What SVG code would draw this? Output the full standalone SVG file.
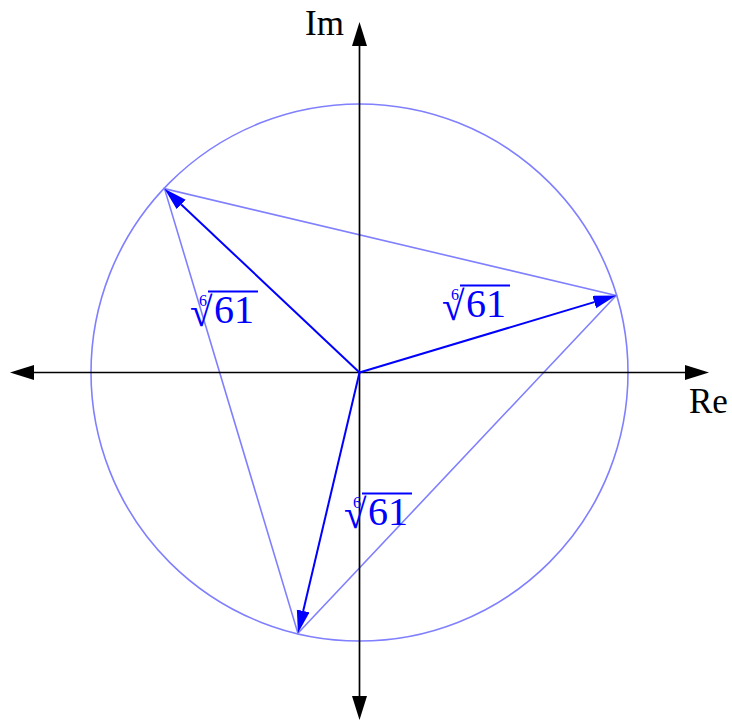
<svg xmlns="http://www.w3.org/2000/svg" width="732" height="722" viewBox="0 0 732 722">
  <style>
    .axis { stroke: #000; stroke-width: 1.7; fill: none; }
    .vec { stroke: #0000ff; stroke-width: 2; fill: none; }
    .light { stroke: #8080ff; stroke-width: 1.6; fill: none; }
    .lbl { font-family: "Liberation Serif", "DejaVu Serif", serif; fill: #000; }
    .root { font-family: "Liberation Serif", "DejaVu Serif", serif; fill: #0000ff; }
    .bar { stroke: #0000ff; stroke-width: 1.8; }
  </style>
  <defs>
    <marker id="axhead" markerUnits="userSpaceOnUse" markerWidth="26" markerHeight="16" refX="0" refY="7.5" orient="auto-start-reverse" viewBox="0 0 26 16">
      <path d="M0,0 L24,7.5 L0,15 Z" fill="#000"/>
    </marker>
    <marker id="vhead" markerUnits="userSpaceOnUse" markerWidth="24" markerHeight="14" refX="0" refY="6.5" orient="auto" viewBox="0 0 24 14">
      <path d="M0,0 L23,6.5 L0,13 Z" fill="#0000ff"/>
    </marker>
  </defs>

  <g id="circle">
    <circle class="light" cx="359.5" cy="372.5" r="268.5"/>
  </g>
  <g id="triangle">
    <polygon class="light" points="616.2,295.5 164.5,188.7 297.9,633.3"/>
  </g>

  <g id="axes">
    <line class="axis" x1="34" y1="372.5" x2="685" y2="372.5" marker-start="url(#axhead)" marker-end="url(#axhead)"/>
    <line class="axis" x1="359.5" y1="696" x2="359.5" y2="46" marker-start="url(#axhead)" marker-end="url(#axhead)"/>
  </g>

  <g id="connectors">
    <line class="vec" x1="359.5" y1="372.5" x2="594.2" y2="302.1" marker-end="url(#vhead)"/>
    <line class="vec" x1="359.5" y1="372.5" x2="181.2" y2="204.5" marker-end="url(#vhead)"/>
    <line class="vec" x1="359.5" y1="372.5" x2="303.2" y2="610.9" marker-end="url(#vhead)"/>
  </g>

  <g id="label-im">
    <text class="lbl" x="305" y="35" font-size="35">Im</text>
  </g>
  <g id="label-re">
    <text class="lbl" x="689" y="413" font-size="35">Re</text>
  </g>

  <g id="root-right">
    <text class="root"><tspan x="451" y="300" font-size="16">6</tspan><tspan x="442" y="320" font-size="41">√</tspan><tspan x="466" y="317" font-size="40">61</tspan></text>
    <line class="bar" x1="460" y1="285.5" x2="510" y2="285.5"/>
  </g>
  <g id="root-left" transform="translate(-252,6)">
    <text class="root"><tspan x="451" y="300" font-size="16">6</tspan><tspan x="442" y="320" font-size="41">√</tspan><tspan x="466" y="317" font-size="40">61</tspan></text>
    <line class="bar" x1="460" y1="285.5" x2="510" y2="285.5"/>
  </g>
  <g id="root-bottom" transform="translate(-98,208)">
    <text class="root"><tspan x="451" y="300" font-size="16">6</tspan><tspan x="442" y="320" font-size="41">√</tspan><tspan x="466" y="317" font-size="40">61</tspan></text>
    <line class="bar" x1="460" y1="285.5" x2="510" y2="285.5"/>
  </g>
</svg>
